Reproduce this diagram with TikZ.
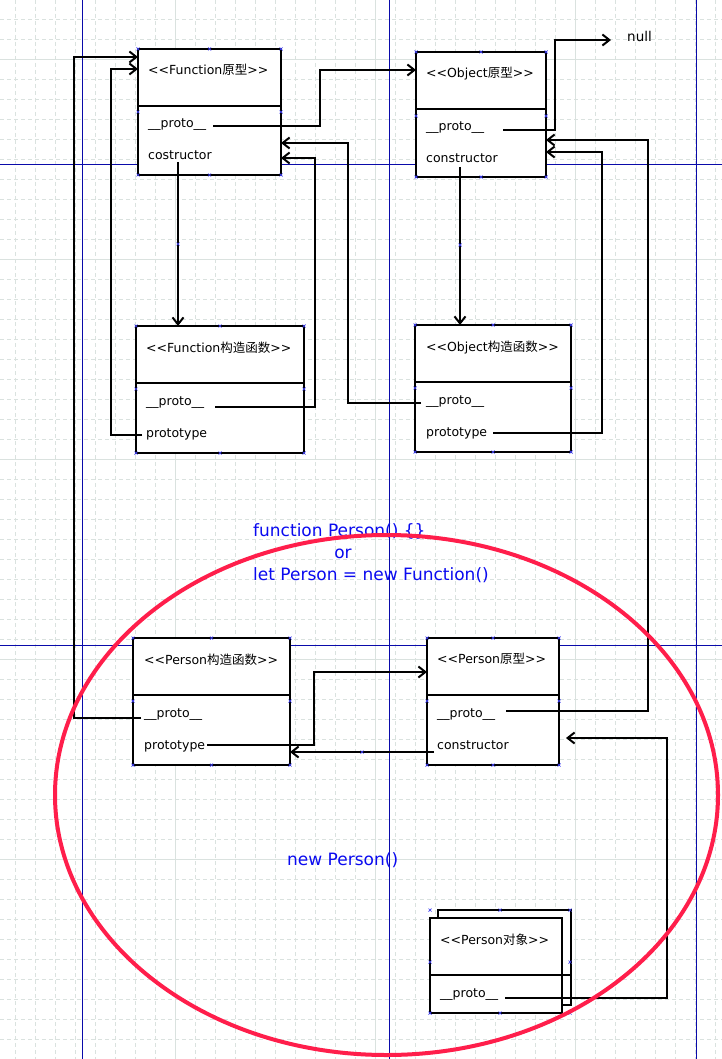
\documentclass[tikz,border=0pt]{standalone}
\usepackage{fontspec}
\setmainfont{DejaVu Sans}
\newfontfamily\cjk{Noto Sans CJK SC}
\usetikzlibrary{arrows.meta}
\definecolor{gridgray}{RGB}{218,226,223}
\definecolor{pageblue}{RGB}{10,10,170}
\definecolor{markblue}{RGB}{60,60,240}
\definecolor{ringred}{RGB}{255,30,75}
\definecolor{noteblue}{RGB}{10,10,240}
\newcommand\stereo[1]{<\kern0pt<#1>\kern0pt>}
\tikzset{
  umlbox/.style={draw,line width=2pt,fill=white,anchor=north west,inner sep=0pt,outer sep=0pt},
  field/.style={anchor=base west,inner sep=0pt,font=\fontsize{12.5}{15}\selectfont},
  conn/.style={line width=2pt},
  arr/.style={conn,-{Straight Barb[length=7pt,width=11pt]}},
  mk/.style={markblue,line width=0.7pt},
  gridminor/.style={gridgray,line width=1pt,dash pattern=on 4pt off 3pt},
  gridmajor/.style={gridgray,line width=1pt},
  pagebreak/.style={pageblue,line width=1pt},
  note/.style={noteblue,inner sep=0pt,font=\fontsize{17}{20}\selectfont},
  ring/.style={ringred,line width=4pt}
}
\begin{document}
\begin{tikzpicture}[x=1pt,y=-1pt]
\useasboundingbox[fill=white] (0,0) rectangle (722,1059);
% grid and page breaks
\foreach \x in {15.5,35.5,...,715.5} \draw[gridminor] (\x,0)--(\x,1059);
\foreach \y in {19.5,39.5,...,1059} \draw[gridminor] (0,\y)--(722,\y);
\foreach \x in {175.5,375.5,575.5} \draw[gridmajor] (\x,0)--(\x,1059);
\foreach \y in {59.5,259.5,459.5,659.5,859.5} \draw[gridmajor] (0,\y)--(722,\y);
\foreach \x in {82.5,389.5,696.5} \draw[pagebreak] (\x,0)--(\x,1059);
\foreach \y in {164.5,645.5} \draw[pagebreak] (0,\y)--(722,\y);

% Function prototype
\node[umlbox,minimum width=143pt,minimum height=126pt] (fp) at (138,49) {};
\draw[conn] (fp.west |- 0,106)--(fp.east |- 0,106);
\node[field] (fp-title) at (148,74.5) {\stereo{Function{\cjk 原型}}};
\node[field] (fp-proto) at (148,128) {\_\_proto\_\_};
\node[field] (fp-cons) at (148,160) {costructor};

% Object prototype
\node[umlbox,minimum width=130pt,minimum height=125pt] (op) at (416,52) {};
\draw[conn] (op.west |- 0,109)--(op.east |- 0,109);
\node[field] (op-title) at (426,77.5) {\stereo{Object{\cjk 原型}}};
\node[field] (op-proto) at (426,131) {\_\_proto\_\_};
\node[field] (op-cons) at (426,163) {constructor};
\node[field,font=\fontsize{13.5}{16}\selectfont] (null) at (627,42) {null};

% Function constructor
\node[umlbox,minimum width=168pt,minimum height=127pt] (fc) at (136,326) {};
\draw[conn] (fc.west |- 0,383)--(fc.east |- 0,383);
\node[field] (fc-title) at (146,352) {\stereo{Function{\cjk 构造函数}}};
\node[field] (fc-proto) at (146,405) {\_\_proto\_\_};
\node[field] (fc-type) at (146,437) {prototype};

% Object constructor
\node[umlbox,minimum width=156pt,minimum height=127pt] (oc) at (415,325) {};
\draw[conn] (oc.west |- 0,382)--(oc.east |- 0,382);
\node[field] (oc-title) at (426,351) {\stereo{Object{\cjk 构造函数}}};
\node[field] (oc-proto) at (426,404) {\_\_proto\_\_};
\node[field] (oc-type) at (426,436) {prototype};

% Person constructor
\node[umlbox,minimum width=157pt,minimum height=127pt] (pc) at (133,638) {};
\draw[conn] (pc.west |- 0,695)--(pc.east |- 0,695);
\node[field] (pc-title) at (144,664) {\stereo{Person{\cjk 构造函数}}};
\node[field] (pc-proto) at (144,717) {\_\_proto\_\_};
\node[field] (pc-type) at (144,749) {prototype};

% Person prototype
\node[umlbox,minimum width=132pt,minimum height=127pt] (pp) at (427,638) {};
\draw[conn] (pp.west |- 0,695)--(pp.east |- 0,695);
\node[field] (pp-title) at (437,663.5) {\stereo{Person{\cjk 原型}}};
\node[field] (pp-proto) at (437,717) {\_\_proto\_\_};
\node[field] (pp-cons) at (437,749) {constructor};

% Person object (stacked)
\node[umlbox,minimum width=133pt,minimum height=95pt] (po-back) at (438,910) {};
\node[umlbox,minimum width=132pt,minimum height=95pt] (po) at (430,918) {};
\draw[conn] (po.west |- 0,975)--(po-back.east |- 0,975);
\node[field] (po-title) at (440,944) {\stereo{Person{\cjk 对象}}};
\node[field] (po-proto) at (440,997) {\_\_proto\_\_};

% connector ends
\coordinate (fp-p) at (213,126);
\coordinate (fp-c) at (178,162);
\coordinate (op-p) at (503,130);
\coordinate (op-c) at (460,167);
\coordinate (fc-p) at (215,407);
\coordinate (fc-t) at (142,435);
\coordinate (oc-p) at (421,403);
\coordinate (oc-t) at (493,433);
\coordinate (pc-p) at (141,718);
\coordinate (pc-t) at (207,745);
\coordinate (pp-p) at (506,711);
\coordinate (pp-c) at (434,752);
\coordinate (po-p) at (505,998);

\draw[arr] (fp-p) -| (320,70) -- (op.west |- 0,70);
\draw[arr] (op-p) -| (555,40) -- ([xshift=-16pt,yshift=2pt]null.base west);
\draw[arr] (fp-c) -- (fp-c |- fc.north);
\draw[arr] (op-c) -- (op-c |- oc.north);
\draw[arr] (fc-p) -| (315,158) -- (fp.east |- 0,158);
\draw[arr] (fc-t) -| (111,69) -- (fp.west |- 0,69);
\draw[arr] (oc-p) -| (348,143) -- (fp.east |- 0,143);
\draw[arr] (oc-t) -| (602,152) -- (op.east |- 0,152);
\draw[arr] (pp-p) -| (648,140) -- (op.east |- 0,140);
\draw[arr] (pc-p) -| (74,57) -- (fp.west |- 0,57);
\draw[arr] (pc-t) -| (314,672) -- (pp.west |- 0,672);
\draw[arr] (pp-c) -- (pc.east |- 0,752);
\draw[arr] (po-p) -| (667,738) -- ([xshift=7pt]pp.east |- 0,738);

% selection marks
\foreach \lx/\rx/\ty/\by/\dy in {138/281/49/175/112,416/546/52/177/116,136/304/326/453/389,415/571/325/452/388,133/290/638/765/701,427/559/638/765/701,430/570/910/1013/962}{
  \pgfmathsetmacro\mx{(\lx+\rx)/2}
  \foreach \x/\y in {\lx/\ty,\mx/\ty,\rx/\ty,\lx/\dy,\rx/\dy,\lx/\by,\mx/\by,\rx/\by}
    \draw[mk] (\x-1.5,\y-1.5)--(\x+1.5,\y+1.5) (\x-1.5,\y+1.5)--(\x+1.5,\y-1.5);
}
\foreach \x/\y in {178/244,460/245,362/752}
  \draw[mk] (\x-1.5,\y-1.5)--(\x+1.5,\y+1.5) (\x-1.5,\y+1.5)--(\x+1.5,\y-1.5);

% notes
\node[note,anchor=base west] (decl) at (253,536) {function Person() \{\}};
\node[note,anchor=base] (or) at (343,558) {or};
\node[note,anchor=base west] (alt) at (253,580) {let Person = new Function()};
\node[note,anchor=base west] (inst) at (287,865) {new Person()};

\draw[ring] (386.5,795) ellipse [x radius=331.5,y radius=260];
\end{tikzpicture}
\end{document}
